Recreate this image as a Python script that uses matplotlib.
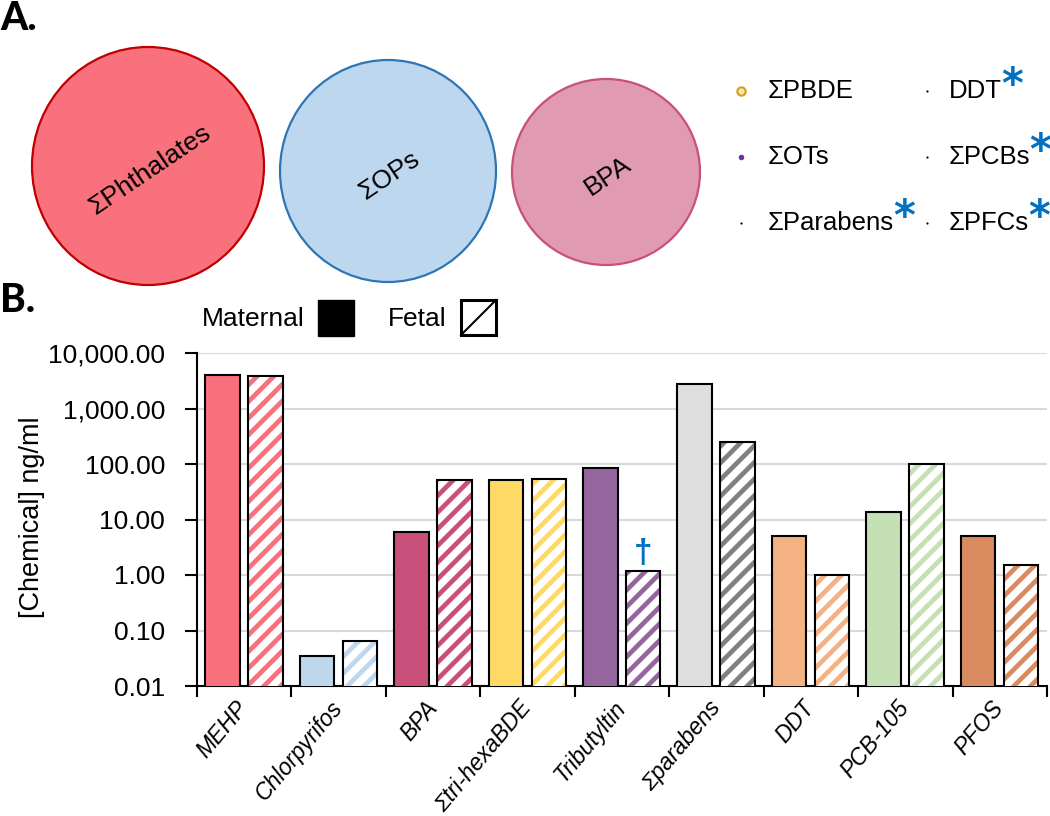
import numpy as np
import matplotlib.pyplot as plt
from matplotlib.patches import Ellipse, Rectangle
from matplotlib.lines import Line2D
from matplotlib.ticker import FuncFormatter, FixedLocator, NullLocator

plt.rcParams['font.family'] = ['Liberation Sans', 'DejaVu Sans']
plt.rcParams['hatch.linewidth'] = 3.4

# panel A
groups = ['ΣPhthalates', 'ΣOPs', 'BPA']
group_face = ['#F8717C', '#BDD7EE', '#E09AB1']
group_edge = ['#C00000', '#2E75B6', '#C9507A']
group_diam = [(232, 238), (216, 222), (188, 186)]
minor_groups = ['ΣPBDE', 'ΣOTs', 'ΣParabens', 'DDT', 'ΣPCBs', 'ΣPFCs']
minor_sig = [False, False, True, True, True, True]
minor_dot = ['#D4A017', '#7030A0', 'black', 'black', 'black', 'black']
minor_dot_size = [6, 4, 1.6, 1.6, 1.6, 1.6]

# panel B
chemicals = ['MEHP', 'Chlorpyrifos', 'BPA', 'Σtri-hexaBDE', 'Tributyltin',
             'Σparabens', 'DDT', 'PCB-105', 'PFOS']
maternal = [4020, 0.035, 5.9, 51.5, 84.7, 2740, 5.08, 13.5, 5.0]
fetal = [3860, 0.064, 52.2, 54.5, 1.2, 249, 0.99, 100, 1.51]
mat_colors = ['#F9707D', '#BDD7EE', '#C9507A', '#FFD966', '#95669E',
              '#DEDEDE', '#F4B183', '#C5E0B4', '#D98B5F']
fet_colors = ['#F9707D', '#BDD7EE', '#C9507A', '#FFD966', '#95669E',
              '#808080', '#F4B183', '#C5E0B4', '#D98B5F']
dagger = [False, False, False, False, True, False, False, False, False]

W, H = 1050, 816
fig = plt.figure(figsize=(W / 100, H / 100), dpi=100)

# overlay in pixel units for panel A and the panel B key
ov = fig.add_axes([0, 0, 1, 1])
ov.set_xlim(0, W)
ov.set_ylim(H, 0)
ov.axis('off')

ov.text(0, 30, 'A.', fontsize=28, fontweight='black', family='Lato', va='baseline')
ov.text(0, 312, 'B.', fontsize=28, fontweight='black', family='Lato', va='baseline')

centers = [(148, 166), (388, 171), (606, 172)]
for (cx, cy), (w, h), name, fc, ec in zip(centers, group_diam, groups, group_face, group_edge):
    ov.add_patch(Ellipse((cx, cy), w, h, facecolor=fc, edgecolor=ec, lw=1.6))
    ov.text(cx + 2, cy + 4, name, rotation=34, ha='center', va='center', fontsize=19)

rows = [91, 157, 223]
cols = [(741, 768), (927, 949)]
for i, (name, sig) in enumerate(zip(minor_groups, minor_sig)):
    dx, tx = cols[i // 3]
    y = rows[i % 3]
    if i == 0:
        ov.plot(dx, y, 'o', ms=minor_dot_size[i], mfc='#F5E6B0', mec=minor_dot[i], mew=1.5)
    else:
        ov.plot(dx, y, 'o', ms=minor_dot_size[i], color=minor_dot[i], mew=0)
    t = ov.text(tx, y, name, ha='left', va='center', fontsize=18.5)
    if sig:
        fig.canvas.draw()
        bb = t.get_window_extent()
        ov.text(bb.x1 - 1, y - 5, '*', color='#0070C0', fontsize=30,
                fontweight='bold', ha='left', va='center', family='DejaVu Sans')

# key for maternal / fetal
ov.text(202, 326, 'Maternal', fontsize=19, va='baseline')
ov.add_patch(Rectangle((318, 300), 36, 36, facecolor='black', edgecolor='black', lw=1))
ov.text(388, 326, 'Fetal', fontsize=19, va='baseline')
ov.add_patch(Rectangle((461, 300), 35, 35, facecolor='white', edgecolor='black', lw=2.2))
ov.add_line(Line2D([461, 496], [335, 300], color='black', lw=1.5))

# bar chart
ax = fig.add_axes([197 / W, 1 - 686 / H, 850 / W, 333 / H])
x = np.arange(len(chemicals))
bw = 0.365
ax.bar(x - 0.23, maternal, bw, color=mat_colors, edgecolor='black', lw=1.5, zorder=3)
ax.bar(x + 0.225, fetal, bw, color='white', edgecolor=fet_colors, hatch='//', lw=0, zorder=3)
ax.bar(x + 0.225, fetal, bw, facecolor='none', edgecolor='black', lw=1.5, zorder=4)

for xi, v, d in zip(x, fetal, dagger):
    if d:
        ax.annotate('†', (xi + 0.225, v), xytext=(0, 1), textcoords='offset points',
                    ha='center', va='bottom', color='#0070C0', fontsize=24, fontweight='bold')

ax.set_yscale('log')
ax.set_ylim(0.01, 10000)
ax.set_xlim(-0.5, len(chemicals) - 0.5)
ax.yaxis.set_major_locator(FixedLocator([0.01, 0.1, 1, 10, 100, 1000, 10000]))
ax.yaxis.set_minor_locator(NullLocator())
ax.yaxis.set_major_formatter(FuncFormatter(lambda v, p: '{:,.2f}'.format(v)))
ax.yaxis.grid(True, color='#D9D9D9', lw=1.5)
ax.set_axisbelow(True)

ax.xaxis.set_major_locator(FixedLocator(np.arange(-0.5, len(chemicals), 1)))
ax.xaxis.set_major_formatter(FuncFormatter(lambda v, p: ''))
ax.xaxis.set_minor_locator(FixedLocator(x))
ax.set_xticklabels(chemicals, minor=True, rotation=50, ha='right', va='center',
                   rotation_mode='anchor', fontsize=16.5, style='italic')
ax.tick_params(axis='x', which='major', length=8, width=1.5, direction='out')
ax.tick_params(axis='x', which='minor', length=0, pad=13)
ax.tick_params(axis='y', length=9, width=1.5, labelsize=19, pad=14)

for s in ['top', 'right']:
    ax.spines[s].set_visible(False)
for s in ['left', 'bottom']:
    ax.spines[s].set_linewidth(1.5)

fig.text(32 / W, 1 - 517 / H, '[Chemical] ng/ml', rotation=90, ha='center',
         va='center', fontsize=19.5)

fig.savefig('out.png', dpi=100)
